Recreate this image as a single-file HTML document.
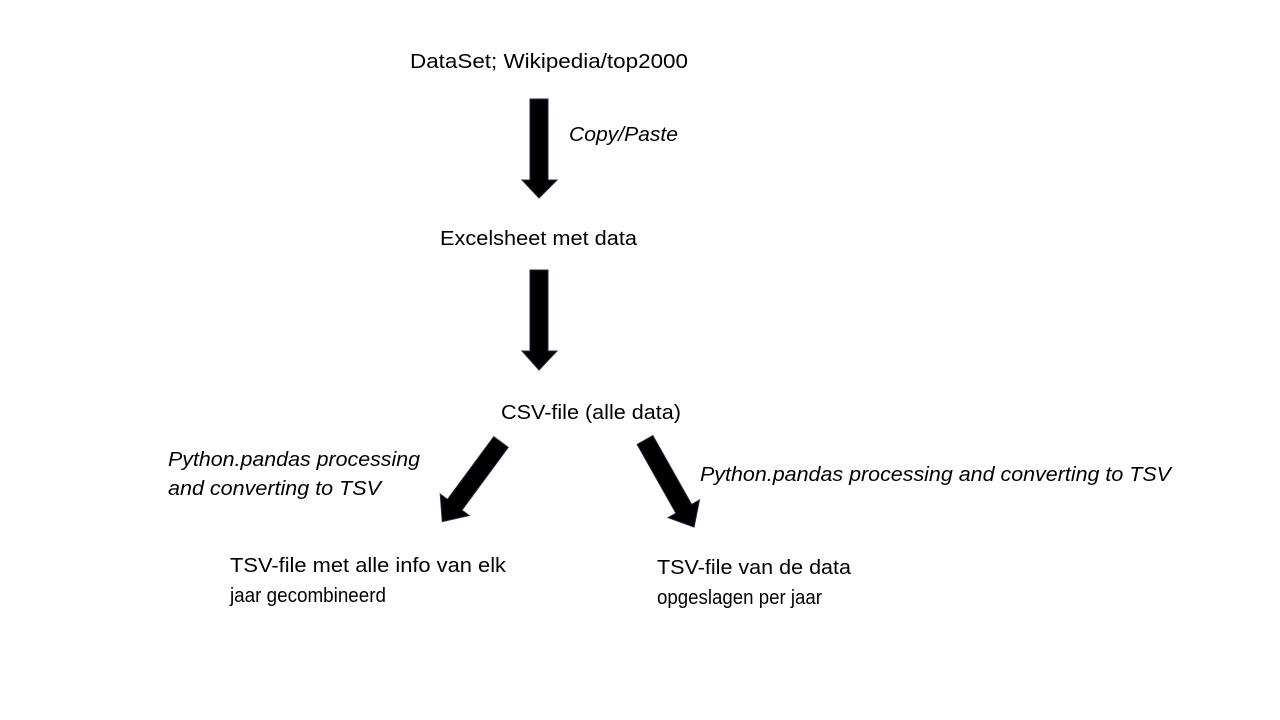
<!DOCTYPE html>
<html><head><meta charset="utf-8"><style>
html,body{margin:0;padding:0;background:#fff;}
svg{display:block}
text{font-family:"Liberation Sans",sans-serif;font-size:20px;fill:#000}
.i{font-style:italic}
</style></head><body>
<svg width="1280" height="720" viewBox="0 0 1280 720">
<rect width="1280" height="720" fill="#fff"/>
<g fill="#000" stroke="#1f2a44" stroke-width="1">
<polygon points="530,99 548,99 548,180 557,180 539,198 522,180 530,180"/>
<polygon points="530,270 548,270 548,351 557,351 539,370 522,351 530,351"/>
<g transform="translate(501,442) rotate(36.4)">
<polygon points="-9,0 9,0 9,78 18,78 0,99 -18,78 -9,78"/>
</g>
<g transform="translate(645,440) rotate(-29.4)">
<polygon points="-9,0 9,0 9,79 18,79 0,100 -18,79 -9,79"/>
</g>
</g>
<text x="410" y="68" textLength="278" lengthAdjust="spacingAndGlyphs">DataSet; Wikipedia/top2000</text>
<text class="i" x="569" y="141" textLength="109" lengthAdjust="spacingAndGlyphs">Copy/Paste</text>
<text x="440" y="245" textLength="197" lengthAdjust="spacingAndGlyphs">Excelsheet met data</text>
<text x="501" y="419" textLength="180" lengthAdjust="spacingAndGlyphs">CSV-file (alle data)</text>
<text class="i" x="168" y="466" textLength="252" lengthAdjust="spacingAndGlyphs">Python.pandas  processing</text>
<text class="i" x="168" y="495" textLength="213" lengthAdjust="spacingAndGlyphs">and converting to TSV</text>
<text class="i" x="700" y="481" textLength="471" lengthAdjust="spacingAndGlyphs">Python.pandas  processing and converting to TSV</text>
<text x="230" y="572" textLength="276" lengthAdjust="spacingAndGlyphs">TSV-file met alle info van elk</text>
<text x="230" y="602" textLength="156" lengthAdjust="spacingAndGlyphs">jaar gecombineerd</text>
<text x="657" y="574" textLength="194" lengthAdjust="spacingAndGlyphs">TSV-file van de data</text>
<text x="657" y="604" textLength="165" lengthAdjust="spacingAndGlyphs">opgeslagen per jaar</text>
</svg>
</body></html>
